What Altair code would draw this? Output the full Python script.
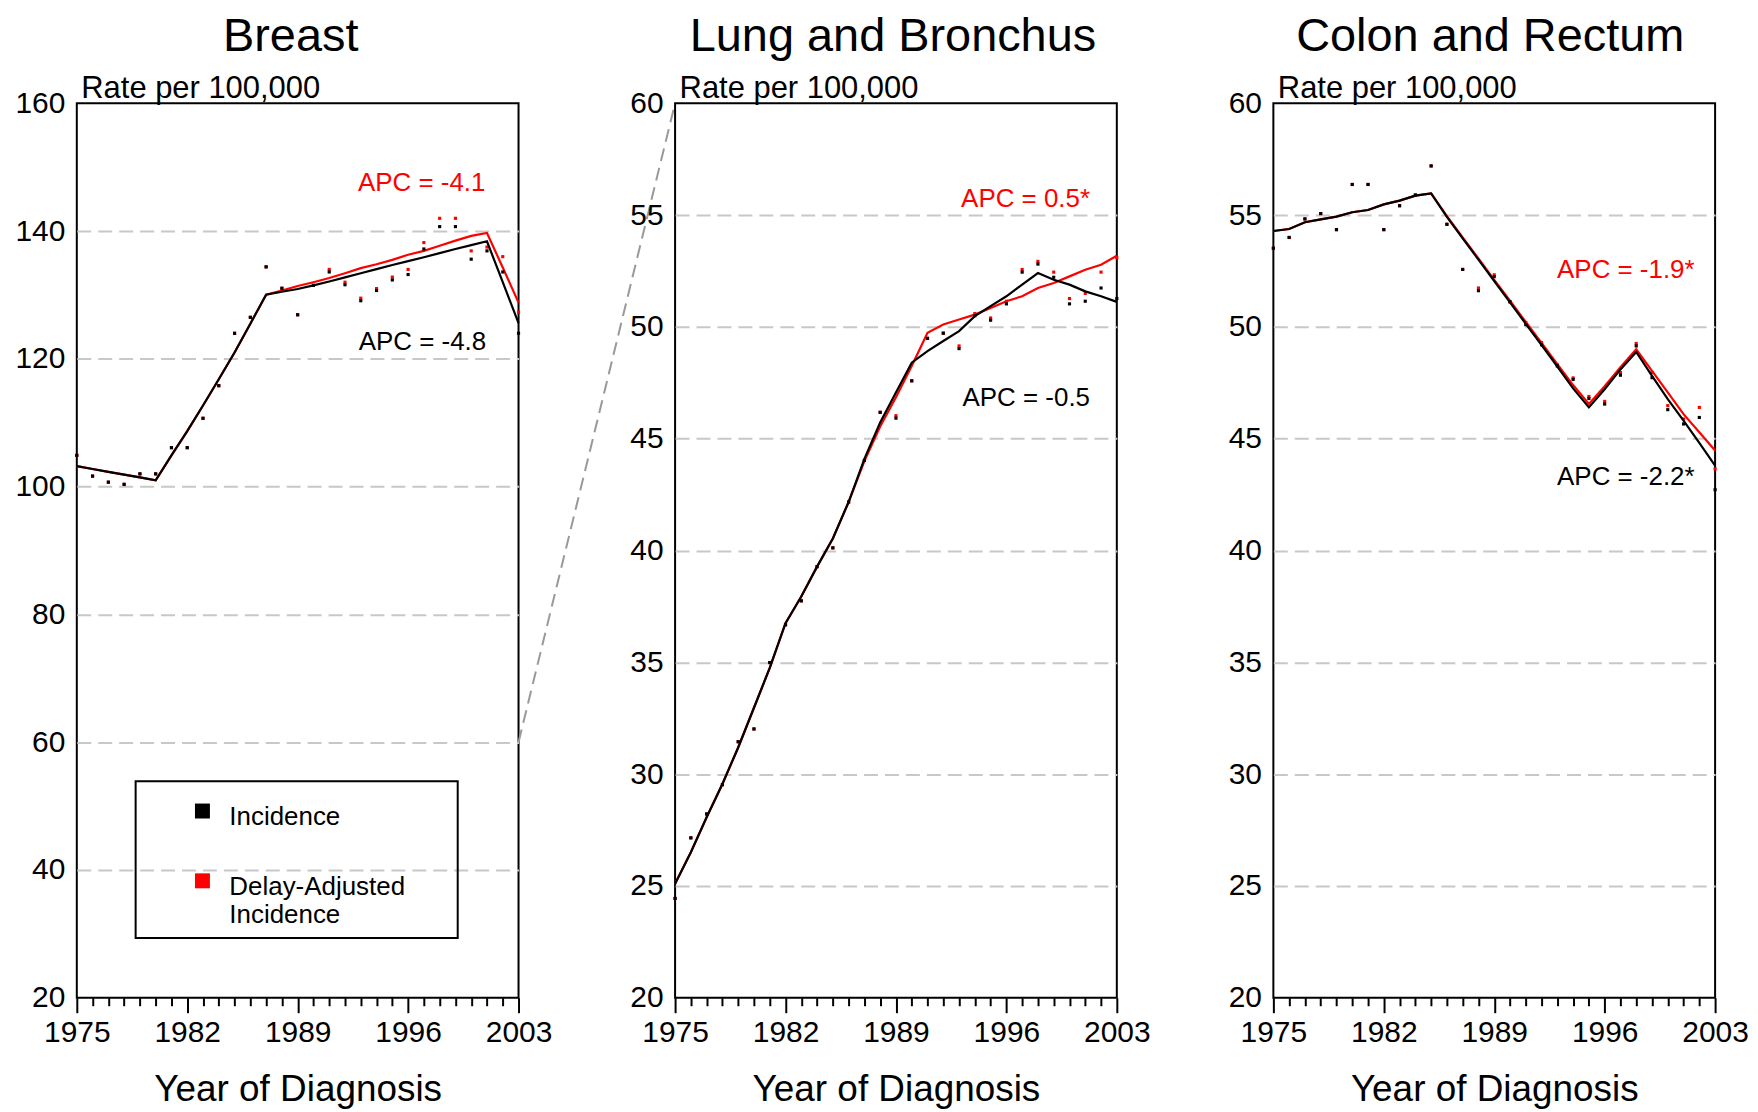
import altair as alt
import pandas as pd

FONT = "Liberation Sans"

years = list(range(1975, 2004))
tick_years = years  # every year carries a tick; majors (labelled) every 7 years

# ---------------- Breast ----------------
breast_obs = [104.9, 101.65, 100.7, 100.36, 102.0, 102.0, 106.1, 106.1, 110.7, 115.8,
              124.0, 126.5, 134.4, 131.05, 126.9, 131.5, 133.6, 131.6, 129.1, 130.7,
              132.35, 133.2, 137.2, 140.7, 140.7, 135.6, 136.9, 133.6, 124.0]
breast_adj_obs = [104.9, 101.65, 100.7, 100.36, 102.0, 102.0, 106.1, 106.1, 110.7, 115.8,
                  124.0, 126.5, 134.4, 131.05, 126.9, 131.5, 134.0, 132.0, 129.5, 131.0,
                  132.8, 134.0, 138.2, 142.0, 142.0, 136.9, 137.5, 136.0, 127.3]
breast_fit = [103.2, 102.76, 102.32, 101.88, 101.44, 101.0, 104.9, 108.7, 112.7, 116.8,
              121.0, 125.5, 130.05, 130.5, 130.94, 131.5, 132.1, 132.75, 133.4, 134.05,
              134.7, 135.3, 135.9, 136.55, 137.2, 137.8, 138.4, 132.0, 125.6]
breast_adj_fit = [103.2, 102.76, 102.32, 101.88, 101.44, 101.0, 104.9, 108.7, 112.7, 116.8,
                  121.0, 125.5, 130.05, 130.7, 131.4, 132.0, 132.65, 133.4, 134.2, 134.8,
                  135.5, 136.3, 136.9, 137.7, 138.5, 139.25, 139.7, 134.3, 128.8]

# ---------------- Lung and Bronchus ----------------
lung_obs = [24.44, 27.15, 28.22, 29.53, 31.45, 32.02, 34.99, 36.68, 37.75, 39.28,
            40.12, 42.17, 44.03, 46.18, 45.92, 47.59, 49.49, 49.72, 49.03, 50.5,
            50.3, 51.03, 52.45, 52.81, 52.22, 51.03, 51.15, 51.74, 51.27]
lung_adj_obs = [24.44, 27.15, 28.22, 29.53, 31.45, 32.02, 34.99, 36.68, 37.75, 39.28,
                40.12, 42.17, 44.03, 46.18, 46.03, 47.59, 49.49, 49.72, 49.15, 50.6,
                50.4, 51.15, 52.57, 52.93, 52.45, 51.27, 51.5, 52.45, 53.1]
lung_fit = [25.1, 26.51, 28.07, 29.56, 31.19, 32.97, 34.75, 36.75, 37.94, 39.28,
            40.54, 42.17, 44.1, 45.73, 47.07, 48.4, 48.92, 49.37, 49.81, 50.48,
            50.93, 51.37, 51.89, 52.41, 52.11, 51.89, 51.59, 51.37, 51.12]
lung_adj_fit = [25.1, 26.51, 28.07, 29.56, 31.19, 32.97, 34.75, 36.75, 37.94, 39.28,
                40.54, 42.17, 44.0, 45.55, 46.85, 48.25, 49.74, 50.11, 50.33, 50.55,
                50.85, 51.15, 51.37, 51.74, 51.96, 52.26, 52.56, 52.78, 53.18]

# ---------------- Colon and Rectum ----------------
colon_obs = [53.52, 54.0, 54.83, 55.07, 54.35, 56.37, 56.37, 54.35, 55.42, 55.9,
             57.2, 54.59, 52.57, 51.62, 52.25, 51.12, 50.1, 49.2, 48.25, 47.65,
             46.8, 46.55, 47.84, 49.15, 47.73, 46.3, 45.66, 45.95, 42.72]
colon_adj_obs = [53.52, 54.0, 54.83, 55.07, 54.35, 56.37, 56.37, 54.35, 55.42, 55.9,
                 57.2, 54.59, 52.57, 51.74, 52.33, 51.12, 50.2, 49.3, 48.3, 47.72,
                 46.89, 46.67, 47.96, 49.26, 47.96, 46.48, 45.88, 46.4, 43.65]
colon_fit = [54.29, 54.38, 54.68, 54.81, 54.93, 55.13, 55.23, 55.48, 55.65, 55.87,
             55.97, 54.92, 53.96, 53.01, 52.05, 51.1, 50.14, 49.19, 48.23, 47.25,
             46.4, 47.21, 48.1, 48.88, 47.81, 46.77, 45.81, 44.81, 43.8]
colon_adj_fit = [54.29, 54.38, 54.68, 54.81, 54.93, 55.13, 55.23, 55.48, 55.65, 55.87,
                 55.97, 54.95, 54.0, 53.06, 52.1, 51.17, 50.22, 49.28, 48.34, 47.4,
                 46.55, 47.35, 48.2, 49.0, 48.03, 47.07, 46.1, 45.29, 44.47]

# APC annotations: (panel, year, rate, text, colour)
apc_panel = ["Breast", "Breast", "Lung and Bronchus", "Lung and Bronchus",
             "Colon and Rectum", "Colon and Rectum"]
apc_year = [2000.9, 2000.95, 2001.3, 2001.3, 2001.7, 2001.7]
apc_rate = [146.3, 121.4, 55.38, 46.47, 52.19, 42.94]
apc_text = ["APC = -4.1", "APC = -4.8", "APC = 0.5*", "APC = -0.5",
            "APC = -1.9*", "APC = -2.2*"]
apc_color = ["red", "black", "red", "black", "red", "black"]

# zoom connector: Breast's 60 at the right edge -> Lung's 60 at the top-left
connector_year = [2003]
connector_rate = [60]

SERIES = ["Incidence", "Delay-Adjusted Incidence"]
W, H, GAP = 443, 897, 157

apc_df = pd.DataFrame({"panel": apc_panel, "year": apc_year, "rate": apc_rate,
                       "text": apc_text, "color": apc_color})
conn_df = pd.DataFrame({"year": connector_year, "rate": connector_rate})


def panel(name, ymin, ymax, step, obs, adj_obs, fit, adj_fit, dx=0, legend=False, connector=False):
    pts = pd.DataFrame({
        "year": years * 2,
        "rate": adj_obs + obs,
        "series": [SERIES[1]] * len(years) + [SERIES[0]] * len(years),
    })
    fits = pd.DataFrame({
        "year": years * 2,
        "rate": adj_fit + fit,
        "series": [SERIES[1]] * len(years) + [SERIES[0]] * len(years),
    })
    yvals = list(range(ymin, ymax + 1, step))
    xaxis = alt.Axis(
        values=tick_years, format="d",
        labelExpr="(datum.value - 1975) % 7 == 0 ? datum.label : ''",
        tickSize={"condition": {"test": "(datum.value - 1975) % 7 == 0", "value": 15}, "value": 8},
        tickWidth=2, tickColor="black", domain=False, grid=False,
        labelPadding=5, labelFlush=False, labelOverlap=False,
        labelFontSize=30, labelFont=FONT, labelColor="black",
        title="Year of Diagnosis", titleFontSize=37, titleFont=FONT,
        titleFontWeight="normal", titleColor="black",
        titleBaseline="alphabetic", titleY=103,
    )
    yaxis = alt.Axis(
        values=yvals, grid=True, gridDash=[14, 7], gridColor="#c8c8c8", gridWidth=2,
        gridOpacity={"condition": {"test": f"datum.value == {ymin} || datum.value == {ymax}",
                                   "value": 0}, "value": 1},
        ticks=False, tickSize=0, domain=False, labelPadding=12,
        labelFontSize=30, labelFont=FONT, labelColor="black",
        title="Rate per 100,000", titleAngle=0, titleAlign="left",
        titleBaseline="alphabetic", titleX=4, titleY=-6,
        titleFontSize=31, titleFont=FONT, titleFontWeight="normal", titleColor="black",
    )
    xenc = alt.X("year:Q", scale=alt.Scale(domain=[1975, 2003], nice=False, zero=False), axis=xaxis)
    yenc = alt.Y("rate:Q", scale=alt.Scale(domain=[ymin, ymax], nice=False, zero=False), axis=yaxis)

    if legend:
        leg = alt.Legend(
            orient="none", legendX=59, legendY=680, direction="vertical",
            title="\u00a0", titleOrient="right", titleFontSize=1, titlePadding=43,
            symbolType="M-1,-0.1H1V1.9H-1Z", symbolSize=225, symbolStrokeWidth=0,
            symbolOffset=44,
            labelFont=FONT, labelFontSize=26, labelColor="black", labelLimit=0,
            labelExpr="split(datum.label, ' ')", labelBaseline="top", labelOffset=14,
            rowPadding=31, padding=10, strokeColor="black",
        )
    else:
        leg = None
    color = alt.Color("series:N", scale=alt.Scale(domain=SERIES, range=["black", "red"]),
                      legend=leg)

    base_f = alt.Chart(fits)
    base_p = alt.Chart(pts)
    red_line = base_f.transform_filter(alt.datum.series == SERIES[1]).mark_line(
        strokeWidth=2.2, color="red").encode(x=xenc, y=yenc)
    black_line = base_f.transform_filter(alt.datum.series == SERIES[0]).mark_line(
        strokeWidth=2.2, color="black").encode(x=xenc, y=yenc)
    red_pts = base_p.transform_filter(alt.datum.series == SERIES[1]).mark_square(
        size=10, opacity=1).encode(x=xenc, y=yenc, color=color)
    black_pts = base_p.transform_filter(alt.datum.series == SERIES[0]).mark_square(
        size=10, opacity=1).encode(x=xenc, y=yenc, color=color)
    txt = alt.Chart(apc_df).transform_filter(alt.datum.panel == name).mark_text(
        align="right", baseline="alphabetic", fontSize=26, font=FONT).encode(
        x=xenc, y=yenc, text="text:N", color=alt.Color("color:N", scale=None))
    layers = [red_line, red_pts, black_line, black_pts, txt]
    if connector:
        conn = alt.Chart(conn_df).mark_rule(
            strokeDash=[13, 7], color="#999999", strokeWidth=2).encode(
            x=xenc, y=yenc, x2=alt.value(W + GAP), y2=alt.value(0))
        layers.append(conn)
    title = alt.TitleParams(name, fontSize=47, font=FONT, fontWeight="normal", color="black",
                            anchor="middle", frame="group", baseline="alphabetic",
                            offset=-26, dx=dx)
    return alt.layer(*layers).properties(width=W, height=H, title=title)


breast = panel("Breast", 20, 160, 20, breast_obs, breast_adj_obs, breast_fit, breast_adj_fit,
               dx=-7, legend=True, connector=True)
lung = panel("Lung and Bronchus", 20, 60, 5, lung_obs, lung_adj_obs, lung_fit, lung_adj_fit, dx=-3)
colon = panel("Colon and Rectum", 20, 60, 5, colon_obs, colon_adj_obs, colon_fit, colon_adj_fit,
              dx=-4)

chart = alt.hconcat(breast, lung, colon, spacing=GAP, bounds="flush").resolve_scale(
    color="independent"
).properties(
    padding={"left": 5, "top": 3, "right": 0, "bottom": 0},
    background="white",
).configure_view(stroke="black", strokeWidth=2).configure_legend(strokeWidth=2)

chart.save("out.html", embed_options={"renderer": "svg", "actions": False})
